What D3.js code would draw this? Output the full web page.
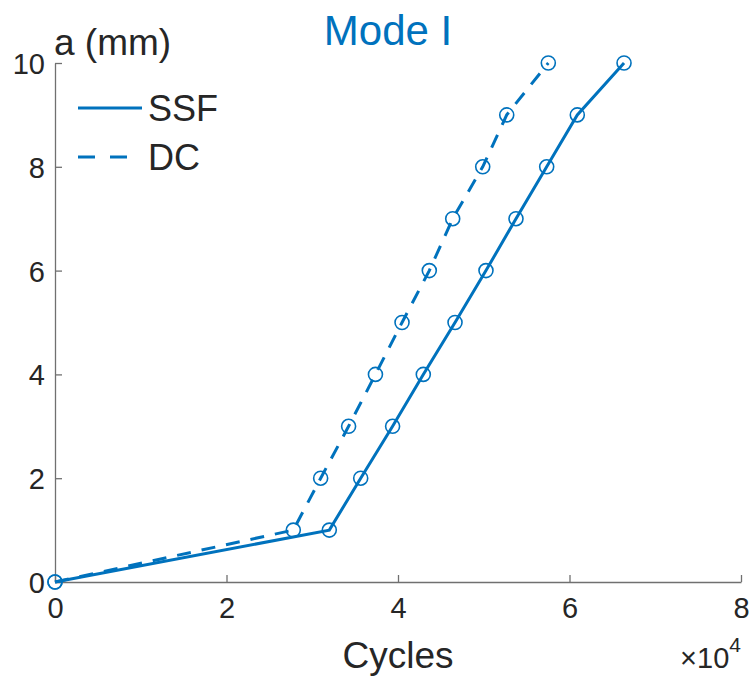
<!DOCTYPE html>
<html>
<head>
<meta charset="utf-8">
<script src="https://cdn.jsdelivr.net/npm/d3@7"></script>
<style>
  html, body { margin: 0; padding: 0; background: #fff; }
  svg { display: block; font-family: "Liberation Sans", Arial, Helvetica, sans-serif; }
</style>
</head>
<body>
<svg id="chart" width="753" height="680"></svg>
<script>
// ---- data ----
const crackLength = [0, 1, 2, 3, 4, 5, 6, 7, 8, 9, 10];           // a (mm)
const ssfCycles   = [0, 31990, 35650, 39370, 42950, 46650, 50260, 53760, 57340, 60910, 66360];
const dcCycles    = [0, 27790, 30980, 34240, 37370, 40470, 43650, 46380, 49880, 52680, 57530];
const seriesNames = ["SSF", "DC"];
const xTicks = [0, 2, 4, 6, 8];      // ×10^4
const yTicks = [0, 2, 4, 6, 8, 10];

const color = "#0072BD";
const textColor = "#262626";
const axisColor = "#707070";

const svg = d3.select("#chart");
const pLeft = 55, pRight = 741, pTop = 63, pBottom = 582;

const x = d3.scaleLinear().domain([0, 80000]).range([pLeft, pRight]);
const y = d3.scaleLinear().domain([0, 10]).range([pBottom, pTop]);

// axes (MATLAB style: ticks inward, box off)
const xAxis = d3.axisBottom(x)
  .tickValues(xTicks.map(d => d * 1e4))
  .tickFormat(d => d / 1e4)
  .tickSizeInner(-7).tickSizeOuter(0).tickPadding(16);
const yAxis = d3.axisLeft(y)
  .tickValues(yTicks)
  .tickSizeInner(-7).tickSizeOuter(0).tickPadding(16);

const gx = svg.append("g").attr("transform", `translate(0,${pBottom})`).call(xAxis);
const gy = svg.append("g").attr("transform", `translate(${pLeft},0)`).call(yAxis);
[gx, gy].forEach(g => {
  g.select(".domain").attr("stroke", axisColor).attr("stroke-width", 1.3);
  g.selectAll(".tick line").attr("stroke", axisColor).attr("stroke-width", 1.3);
  g.selectAll(".tick text").attr("fill", textColor)
    .style("font-size", "29px").style("font-family", "Liberation Sans, Arial, sans-serif");
});
gx.selectAll(".tick text").attr("y", 36).attr("dy", null);
gy.selectAll(".tick text").attr("x", -10).attr("dy", "0.36em");

// labels
svg.append("text").attr("x", 388).attr("y", 45).attr("text-anchor", "middle")
  .attr("fill", color).style("font-size", "42px").text("Mode I");
svg.append("text").attr("x", 54).attr("y", 55).attr("text-anchor", "start")
  .attr("fill", textColor).style("font-size", "37px").text("a (mm)");
svg.append("text").attr("x", 398).attr("y", 668).attr("text-anchor", "middle")
  .attr("fill", textColor).style("font-size", "37px").text("Cycles");
const sci = svg.append("text").attr("x", 741).attr("y", 668).attr("text-anchor", "end")
  .attr("fill", textColor).style("font-size", "29px");
sci.append("tspan").text("\u00D710");
sci.append("tspan").attr("dy", -16).style("font-size", "21px").text("4");

// lines
const line = d3.line().x(d => x(d[0])).y(d => y(d[1]));
const series = [
  { name: seriesNames[0], cycles: ssfCycles, dash: null },
  { name: seriesNames[1], cycles: dcCycles, dash: "14,11" }
];
series.forEach(s => {
  const pts = s.cycles.map((c, i) => [c, crackLength[i]]);
  svg.append("path").datum(pts).attr("d", line)
    .attr("fill", "none").attr("stroke", color).attr("stroke-width", 3)
    .attr("stroke-dasharray", s.dash);
  svg.append("g").selectAll("circle").data(pts).join("circle")
    .attr("cx", d => x(d[0])).attr("cy", d => y(d[1])).attr("r", 7)
    .attr("fill", "none").attr("stroke", color).attr("stroke-width", 1.6);
});

// legend
const legY = [108, 157];
series.forEach((s, i) => {
  svg.append("line").attr("x1", 78).attr("x2", 142).attr("y1", legY[i]).attr("y2", legY[i])
    .attr("stroke", color).attr("stroke-width", 3)
    .attr("stroke-dasharray", s.dash ? "17,15" : null);
  svg.append("text").attr("x", 148).attr("y", legY[i]).attr("dy", "0.36em")
    .attr("fill", textColor).style("font-size", "36px").text(s.name);
});
</script>
</body>
</html>
